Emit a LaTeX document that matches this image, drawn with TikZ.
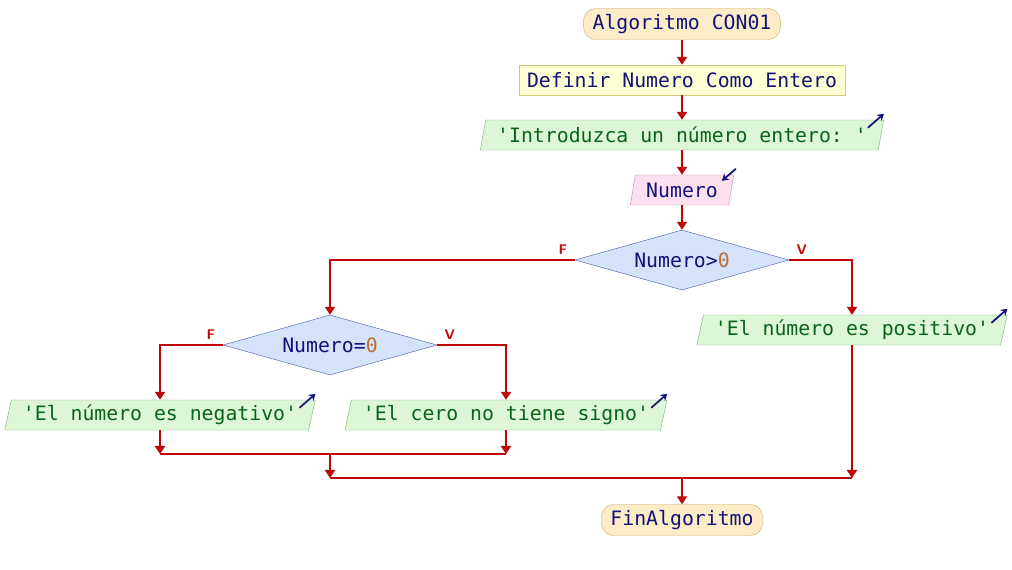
\documentclass[tikz,border=0pt]{standalone}
\usepackage{fontspec}
\setmonofont{DejaVu Sans Mono}
\usetikzlibrary{shapes.geometric,arrows.meta,positioning}
\definecolor{flujo}{RGB}{190,8,8}
\definecolor{azul}{RGB}{18,18,120}
\definecolor{verde}{RGB}{8,100,24}
\definecolor{naranja}{RGB}{190,110,50}
\begin{document}
\begin{tikzpicture}[x=1pt,y=1pt,
        every node/.style={font=\fontsize{19.8}{20}\selectfont\ttfamily,text=azul},
        flow/.style={draw=flujo,line width=2pt,-{Triangle[width=10pt,length=8pt]}},
        line/.style={draw=flujo,line width=2pt},
        terminal/.style={draw={rgb,255:red,210;green,170;blue,100},fill={rgb,255:red,252;green,236;blue,200},rounded corners=12pt,minimum height=31pt,inner xsep=9pt},
        defbox/.style={draw={rgb,255:red,210;green,200;blue,120},fill={rgb,255:red,255;green,255;blue,212},minimum height=30pt,inner xsep=8pt},
        io/.style={trapezium,trapezium stretches=true,trapezium left angle=71.6,trapezium right angle=108.4,minimum height=30pt,inner xsep=11.5pt,inner ysep=0pt},
        outbox/.style={io,draw={rgb,255:red,120;green,175;blue,120},fill={rgb,255:red,222;green,246;blue,216},text=verde},
        inbox/.style={io,inner xsep=11pt,draw={rgb,255:red,200;green,130;blue,170},fill={rgb,255:red,252;green,224;blue,240}},
        decision/.style={diamond,aspect=3.5,draw={rgb,255:red,70;green,90;blue,165},fill={rgb,255:red,212;green,226;blue,250},minimum width=214pt,minimum height=60pt,inner sep=0pt},
        lbl/.style={font=\sffamily\bfseries\fontsize{14}{14}\selectfont,text=flujo},
        icon/.style={draw=azul,line width=1.7pt,-{Stealth[width=8pt,length=6.5pt]}}]
\useasboundingbox (0,0) rectangle (1012,570);

% main column
\node[terminal] (start) at (682,546) {Algoritmo CON01};
\node[defbox] (def) at (682,490) {Definir Numero Como Entero};
\node[outbox] (ask) at (682,435) {'Introduzca un número entero: '};
\node[inbox] (read) at (682,380) {Numero};
\node[decision] (gt) at (682,310) {Numero>\textcolor{naranja}{0}};

% branches
\node[decision] (eq) at (330,225) {Numero=\textcolor{naranja}{0}};
\node[outbox] (pos) at (852,240) {'El número es positivo'};
\node[outbox] (neg) at (160,155) {'El número es negativo'};
\node[outbox] (zero) at (506,155) {'El cero no tiene signo'};
\node[terminal] (fin) at (682,50) {FinAlgoritmo};

% join points
\coordinate (joinL) at (160,116);
\coordinate (joinR) at (506,116);
\coordinate (joinM) at (330,116);
\coordinate (mergeL) at (330,92);
\coordinate (mergeR) at (852,92);
\coordinate (mergeM) at (682,92);

\draw[flow] (start) -- (def);
\draw[flow] (def) -- (ask);
\draw[flow] (ask) -- (read);
\draw[flow] (read) -- (gt);
\draw[flow] (gt.west) -| (eq.north);
\draw[flow] (gt.east) -| (pos.north);
\draw[flow] (eq.west) -| (neg.north);
\draw[flow] (eq.east) -| (zero.north);
\draw[flow] (neg) -- (joinL);
\draw[flow] (zero) -- (joinR);
\draw[line] (joinL) -- (joinR);
\draw[flow] (joinM) -- (mergeL);
\draw[flow] (pos) -- (mergeR);
\draw[line] (mergeL) -- (mergeR);
\draw[flow] (mergeM) -- (fin);

% F / V labels
\node[lbl,anchor=south east] (gtF) at ([shift={(-4,2)}]gt.west) {F};
\node[lbl,anchor=south west] (gtV) at ([shift={(4,2)}]gt.east) {V};
\node[lbl,anchor=south east] (eqF) at ([shift={(-4,2)}]eq.west) {F};
\node[lbl,anchor=south west] (eqV) at ([shift={(4,2)}]eq.east) {V};

% output / input marks
\foreach \n in {ask,pos,neg,zero}{
\draw[icon] ([shift={(-16,-8)}]\n.top right corner) -- ([shift={(0,6)}]\n.top right corner);
}
\draw[icon] ([shift={(2,6)}]read.top right corner) -- ([shift={(-12,-6)}]read.top right corner);
\end{tikzpicture}
\end{document}
